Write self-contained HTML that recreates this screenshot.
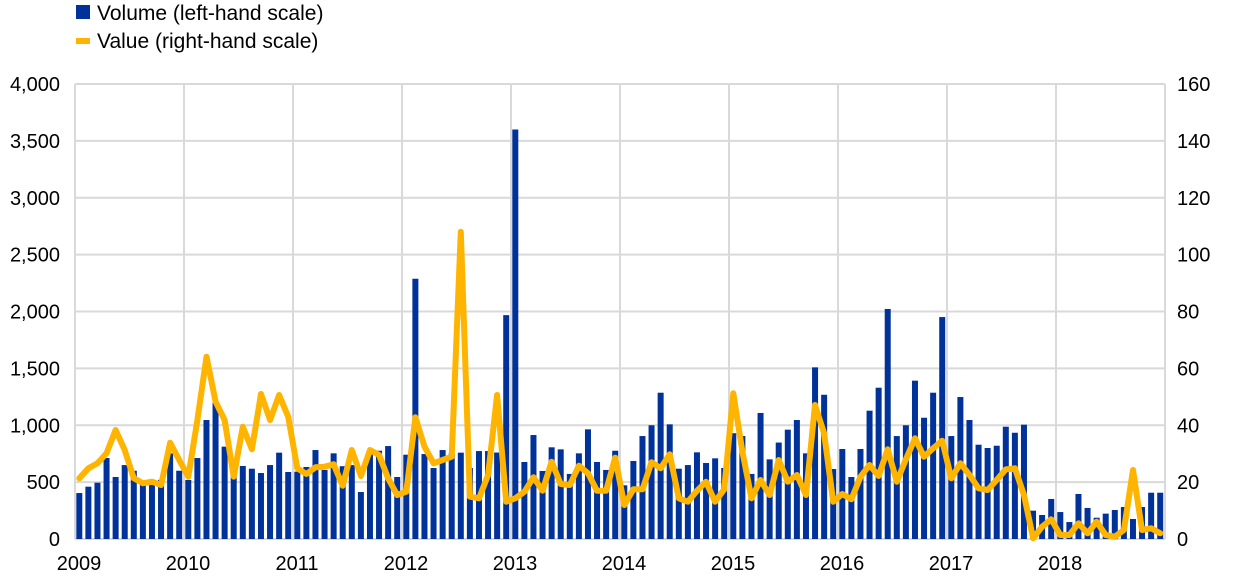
<!DOCTYPE html>
<html><head><meta charset="utf-8"><style>
body{margin:0;background:#fff;}
svg{display:block;font-family:"Liberation Sans",Arial,sans-serif;}
</style></head><body>
<svg id="c" width="1240" height="584" xmlns="http://www.w3.org/2000/svg"></svg>
<script>
const vol=[404,460,495,712,545,650,600,500,500,520,753,600,519,712,1046,1198,812,636,642,618,580,650,759,589,592,633,782,607,753,640,650,413,782,776,817,545,741,2288,747,624,
782,753,759,624,773,773,760,1968,3600,677,914,598,806,788,572,753,964,677,607,776,472,686,905,1000,1286,1008,618,650,762,668,709,624,930,905,572,1108,700,848,961,1046,
753,1509,1268,615,791,545,791,1128,1330,2022,905,1000,1392,1066,1286,1951,905,1248,1046,829,800,820,987,934,1005,249,211,352,237,149,396,273,187,223,255,281,176,281,407,407];
const ln=[775,745,730,700,630,690,775,790,785,795,668,720,770,600,410,545,600,770,620,688,522,600,525,590,745,762,742,740,733,797,690,768,690,705,775,825,815,592,680,730,
720,710,35,830,835,765,525,845,835,815,772,812,725,792,795,737,760,812,812,713,855,808,808,727,745,703,835,845,812,785,845,808,520,695,835,780,825,720,785,765,
825,555,640,845,822,838,770,735,768,688,785,718,655,710,685,662,775,730,765,805,810,780,748,745,825,955,920,898,945,945,910,940,905,945,950,930,750,930,925,940];
const x0=75,x1=1165,y0=539,yt=84,pm=(x1-x0)/120;
let s='';
for(let i=0;i<=8;i++){const y=y0-(y0-yt)*i/8;s+=`<line x1="${x0}" x2="${x1}" y1="${y}" y2="${y}" stroke="#d9d9d9" stroke-width="2"/>`;
s+=`<text x="60" y="${y+7}" text-anchor="end" font-size="20">${(i*500).toLocaleString('en-US')}</text>`;
s+=`<text x="1177" y="${y+7}" font-size="20">${i*20}</text>`;}
for(let k=0;k<=10;k++){const x=x0+k*109;s+=`<line x1="${x}" x2="${x}" y1="${yt}" y2="${y0}" stroke="#d9d9d9" stroke-width="2"/>`;
if(k<10)s+=`<text x="${x+4}" y="570" text-anchor="middle" font-size="20">${2009+k}</text>`;}
for(let i=0;i<120;i++){const cx=79.3+i*pm,h=vol[i]/4000*(y0-yt);s+=`<rect x="${cx-3}" y="${y0-h}" width="6" height="${h}" fill="#003299"/>`;}
let p='';for(let i=0;i<120;i++){p+=(79.3+i*pm).toFixed(1)+','+(220+ln[i]/3).toFixed(1)+' ';}
s+=`<polyline points="${p}" fill="none" stroke="#FFB400" stroke-width="6" stroke-linejoin="round" stroke-linecap="round"/>`;
s+=`<rect x="76" y="5" width="14" height="14" fill="#003299"/><text x="97" y="20" font-size="21">Volume (left-hand scale)</text>`;
s+=`<line x1="76" x2="90" y1="41" y2="41" stroke="#FFB400" stroke-width="6"/><text x="97" y="48" font-size="21">Value (right-hand scale)</text>`;
document.getElementById('c').innerHTML=s;
</script>
</body></html>
